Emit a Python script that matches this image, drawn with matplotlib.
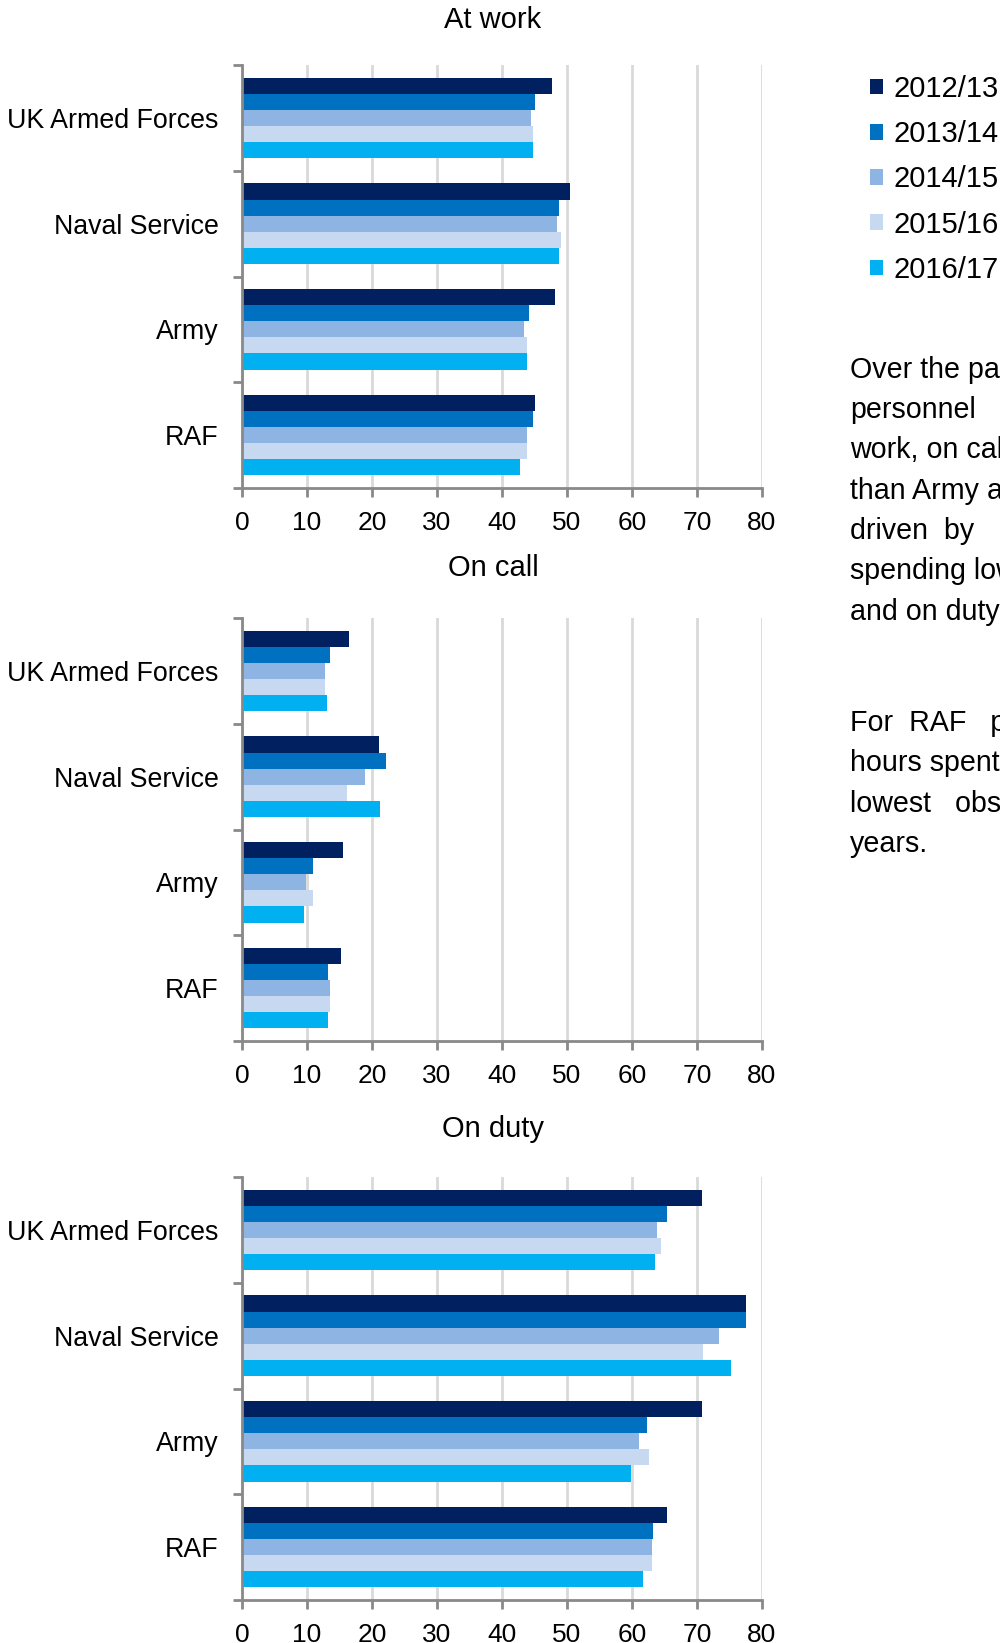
import matplotlib
matplotlib.use("Agg")
import matplotlib.pyplot as plt
import numpy as np

plt.rcParams['font.family'] = ['Liberation Sans', 'DejaVu Sans']

# data (hours per week)
categories = ['UK Armed Forces', 'Naval Service', 'Army', 'RAF']
years = ['2012/13', '2013/14', '2014/15', '2015/16', '2016/17']
colors = ['#002060', '#0070C0', '#8EB4E3', '#C6D9F1', '#00B0F0']

# rows = years, columns = categories
at_work = [[47.7, 50.5, 48.1, 45.0],
           [45.0, 48.7, 44.1, 44.7],
           [44.4, 48.4, 43.4, 43.8],
           [44.7, 49.0, 43.8, 43.8],
           [44.7, 48.7, 43.8, 42.8]]
on_call = [[16.4, 21.0, 15.5, 15.2],
           [13.6, 22.2, 10.9, 13.3],
           [12.7, 18.9, 9.9, 13.6],
           [12.7, 16.1, 10.9, 13.6],
           [13.0, 21.3, 9.6, 13.3]]
on_duty = [[70.7, 77.5, 70.7, 65.4],
           [65.4, 77.5, 62.3, 63.2],
           [63.9, 73.4, 61.1, 63.0],
           [64.5, 70.9, 62.6, 63.0],
           [63.6, 75.3, 59.9, 61.7]]
panel_titles = ['At work', 'On call', 'On duty']
x_ticks = [0, 10, 20, 30, 40, 50, 60, 70, 80]

grey = '#898989'
fig = plt.figure(figsize=(10, 16.43), dpi=100)

H = 1643.0
axes_bottoms = [(H - 488) / H, (H - 1041) / H, (H - 1600) / H]
title_y = [1 - 20 / H, 1 - 568 / H, 1 - 1129 / H]
bar_h = 0.152
y_pos = np.arange(len(categories))

handles = []
for k, data in enumerate([at_work, on_call, on_duty]):
    ax = fig.add_axes([0.242, axes_bottoms[k], 0.52, 423 / H])
    for j, yr in enumerate(years):
        offs = -0.38 + bar_h * (j + 0.5)
        b = ax.barh(y_pos + offs, data[j], height=bar_h, color=colors[j],
                    label=yr, zorder=2)
        if k == 0:
            handles.append(b)
    ax.set_xlim(0, 80)
    ax.set_ylim(3.5, -0.5)
    ax.set_xticks(x_ticks)
    ax.set_yticks(np.arange(-0.5, 4.0, 1.0))
    ax.set_yticklabels([])
    ax.set_yticks(y_pos, minor=True)
    ax.set_yticklabels(categories, minor=True)
    ax.grid(axis='x', color='#D9D9D9', linewidth=2, zorder=0)
    ax.set_axisbelow(True)
    for s in ['top', 'right']:
        ax.spines[s].set_visible(False)
    for s in ['left', 'bottom']:
        ax.spines[s].set_color(grey)
        ax.spines[s].set_linewidth(2)
        ax.spines[s].set_zorder(3)
    ax.tick_params(axis='x', direction='out', length=6.5, width=2, color=grey,
                   labelsize=19, pad=10)
    ax.tick_params(axis='y', which='major', direction='out', length=6.5,
                   width=2, color=grey)
    ax.tick_params(axis='y', which='minor', length=0, labelsize=19.3, pad=17)
    fig.text(0.493, title_y[k], panel_titles[k], ha='center', va='center',
             fontsize=21)

fig.legend(handles=handles, labels=years, loc='upper left',
           bbox_to_anchor=(0.870, 1 - 75 / H), frameon=False, fontsize=21,
           handlelength=0.45, handleheight=0.45, handletextpad=0.34,
           labelspacing=0.59, borderaxespad=0, borderpad=0)

# side note text (justified in the original), clipped at the right edge
lines1 = ['Over the past', 'personnel', 'work, on call', 'than Army and',
          'driven  by', 'spending lower', 'and on duty']
ys1 = [378, 418, 458, 499, 539, 579, 620]
lines2 = ['For  RAF   personnel', 'hours spent', 'lowest   observed', 'years.']
ys2 = [731, 771, 812, 852]
for t, y in zip(lines1 + lines2, ys1 + ys2):
    fig.text(0.850, 1 - y / H, t, ha='left', va='baseline', fontsize=20.6)

fig.savefig('out.png', dpi=100)
